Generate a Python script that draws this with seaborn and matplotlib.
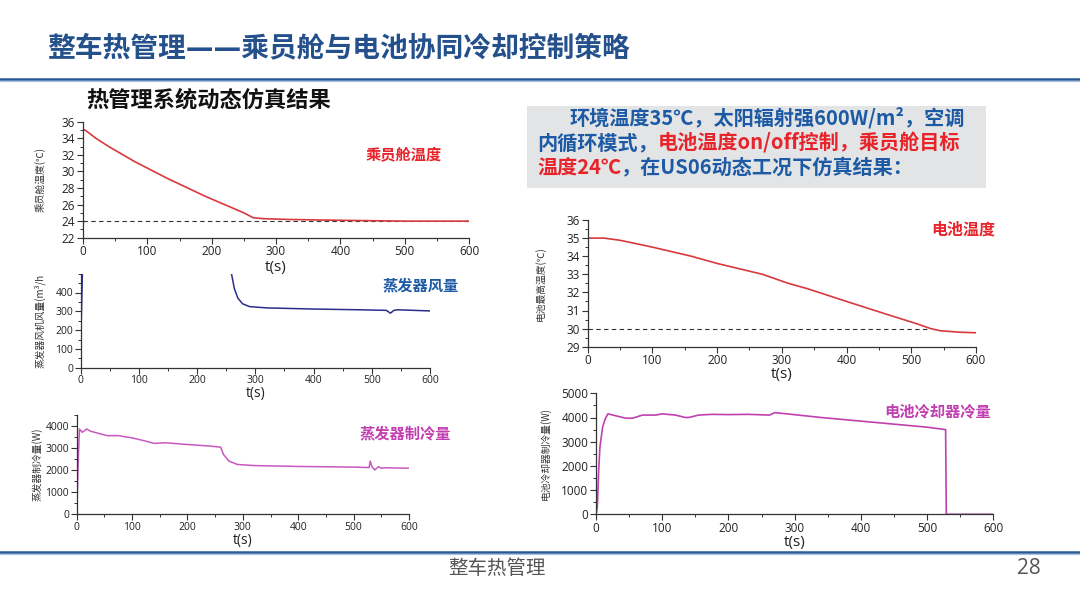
import matplotlib
matplotlib.use("Agg")
import matplotlib.pyplot as plt
from matplotlib.ticker import MultipleLocator
import seaborn as sns
import pandas as pd

# ---------------- data ----------------
cabin_t = [0, 3, 10, 20, 40, 60, 80, 100, 130, 160, 190, 220, 250, 265, 280, 320, 400, 500, 600]
cabin_temp = [35.0, 35.0, 34.6, 34.0, 33.0, 32.1, 31.2, 30.4, 29.2, 28.1, 27.0, 26.0, 25.0, 24.4, 24.3, 24.2, 24.1, 24.0, 24.0]
cabin_target = 24

evap_air_t = [0, 1, 4, 255, 259, 264, 270, 278, 290, 320, 400, 480, 525, 532, 538, 545, 600]
evap_air = [0, 250, 650, 650, 500, 420, 370, 340, 325, 318, 312, 308, 305, 290, 305, 308, 302]

evap_q_t = [0, 3, 5, 10, 18, 25, 40, 55, 75, 100, 125, 140, 160, 200, 240, 260, 265, 275, 290, 320, 400, 500, 528, 530, 533, 538, 545, 550, 555, 600]
evap_q = [0, 2600, 3850, 3700, 3850, 3750, 3650, 3550, 3550, 3450, 3300, 3200, 3230, 3150, 3080, 3030, 2700, 2400, 2250, 2200, 2160, 2130, 2110, 2400, 2150, 2000, 2150, 2080, 2100, 2080]

bat_t = [0, 25, 50, 100, 160, 200, 270, 310, 340, 400, 470, 510, 530, 545, 575, 600]
bat_temp = [35.0, 35.0, 34.88, 34.5, 34.0, 33.6, 33.0, 32.5, 32.2, 31.5, 30.7, 30.25, 30.0, 29.88, 29.8, 29.77]
bat_target = 30

chill_t = [0, 2, 4, 6, 10, 14, 18, 30, 45, 55, 70, 90, 100, 120, 135, 140, 155, 175, 200, 230, 262, 270, 285, 340, 420, 500, 528, 529, 600]
chill_q = [0, 300, 1800, 2800, 3600, 3950, 4150, 4070, 3970, 3970, 4100, 4100, 4150, 4100, 4000, 4000, 4100, 4130, 4120, 4130, 4100, 4200, 4160, 4000, 3800, 3600, 3500, 0, 0]

W, H = 1080, 607
BLUE = "#1d5aa5"
DARK_BLUE = "#24508c"
RED = "#e8232a"
MAGENTA = "#c13fb0"

sns.set_theme(style="white")
plt.rcParams['font.family'] = ['Open Sans', 'Noto Sans CJK SC', 'DejaVu Sans']
plt.rcParams['axes.unicode_minus'] = False

fig = plt.figure(figsize=(W / 100, H / 100), dpi=100)
fig.patch.set_facecolor("white")

CJK = ['Noto Sans CJK SC', 'DejaVu Sans']


def fx(x):
    return x / W


def fy(y):
    return 1 - y / H


def make_ax(left, right, top, bottom):
    return fig.add_axes([fx(left), fy(bottom), (right - left) / W, (bottom - top) / H])


def style_ax(ax, ylim, ymaj, ymin, yticks, tick_fs, xlabel_pad, ylabel, ylabel_x):
    ax.set_xlim(0, 600)
    ax.set_ylim(*ylim)
    ax.xaxis.set_major_locator(MultipleLocator(100))
    ax.xaxis.set_minor_locator(MultipleLocator(50))
    ax.yaxis.set_major_locator(MultipleLocator(ymaj))
    ax.yaxis.set_minor_locator(MultipleLocator(ymin))
    if yticks is not None:
        ax.set_yticks(yticks)
    for s in ["top", "right"]:
        ax.spines[s].set_visible(False)
    for s in ["left", "bottom"]:
        ax.spines[s].set_color("#333333")
        ax.spines[s].set_linewidth(0.9)
    ax.tick_params(which="major", direction="out", length=4, width=0.8, color="#333333",
                   labelsize=tick_fs, labelcolor="#222222", pad=1.5, left=True, bottom=True)
    ax.tick_params(which="minor", direction="out", length=2, width=0.7, color="#333333",
                   left=True, bottom=True)
    ax.set_xlabel("t(s)", fontsize=tick_fs + 2.5, color="#222222", labelpad=xlabel_pad)
    ax.set_ylabel("")
    ax.set_facecolor("none")
    ax.grid(False)
    fig.text(ylabel_x, ax.get_position().y0 + ax.get_position().height / 2, ylabel,
             rotation=90, ha="center", va="center", fontsize=7, color="#333333", family=CJK)


# ---- chart 1: cabin temperature ----
ax1 = make_ax(83, 469, 121.7, 237.7)
ax1.plot([0, 600], [cabin_target] * 2, ls=(0, (4, 3)), color="#333333", lw=0.8)
sns.lineplot(x=cabin_t, y=cabin_temp, ax=ax1, color="#d7393d", lw=1.2)
style_ax(ax1, (22, 36), 2, 1, None, 8.5, 1, "乘员舱温度(℃)", fx(40))

# ---- chart 2: evaporator airflow ----
ax2 = make_ax(80.7, 430, 273.7, 367.7)
sns.lineplot(x=evap_air_t, y=evap_air, ax=ax2, color="#2b2d8a", lw=1.1)
style_ax(ax2, (0, 500), 100, 50, [0, 100, 200, 300, 400], 7.5, 0, "蒸发器风机风量(m³/h", fx(40))

# ---- chart 3: evaporator cooling capacity ----
ax3 = make_ax(76.7, 409, 414.6, 514.3)
sns.lineplot(x=evap_q_t, y=evap_q, ax=ax3, color="#c858c0", lw=1.1)
style_ax(ax3, (0, 4500), 1000, 500, [0, 1000, 2000, 3000, 4000], 7.5, 0, "蒸发器制冷量(W)", fx(37))

# ---- chart 4: battery temperature ----
ax4 = make_ax(587.7, 976, 220, 346.7)
ax4.plot([0, 525], [bat_target] * 2, ls=(0, (4, 3)), color="#333333", lw=0.8)
sns.lineplot(x=bat_t, y=bat_temp, ax=ax4, color="#d7393d", lw=1.2)
style_ax(ax4, (29, 36), 1, 0.5, None, 8.5, 0, "电池最高温度(℃)", fx(540))

# ---- chart 5: battery chiller capacity ----
ax5 = make_ax(596, 993.3, 393.3, 514.3)
sns.lineplot(x=chill_t, y=chill_q, ax=ax5, color="#c040b0", lw=1.2)
style_ax(ax5, (0, 5000), 1000, 500, None, 8.5, 0, "电池冷却器制冷量(W)", fx(545))

# ---------------- slide decorations ----------------
fig.text(fx(47), fy(48), "整车热管理——乘员舱与电池协同冷却控制策略", fontsize=20, fontweight="bold",
         color=DARK_BLUE, ha="left", va="center", family=['DejaVu Sans', 'Noto Sans CJK SC'])
fig.add_artist(plt.Line2D([0, 1], [fy(78.5), fy(78.5)], color="#2a5a96", lw=1.8))
fig.add_artist(plt.Line2D([0, 1], [fy(80.5), fy(80.5)], color="#a9c1e0", lw=0.8))

fig.text(fx(86), fy(100), "热管理系统动态仿真结果", fontsize=16, fontweight="bold",
         color="#111111", ha="left", va="center", family=CJK)

# grey info box
fig.add_artist(plt.Rectangle((fx(527), fy(187.7)), (985.7 - 527) / W, (187.7 - 106) / H,
                             transform=fig.transFigure, facecolor="#e3e4e6", edgecolor="none", zorder=0))

overlay = fig.add_axes([0, 0, 1, 1])
overlay.set_axis_off()
overlay.set_xlim(0, 1)
overlay.set_ylim(0, 1)


def rich_line(x, y, segments, fs):
    prev = None
    for txt, col in segments:
        if prev is None:
            prev = overlay.text(fx(x), fy(y), txt, fontsize=fs, fontweight="bold", color=col,
                                ha="left", va="center", family=CJK)
        else:
            prev = overlay.annotate(txt, xy=(1, 0), xycoords=prev, ha="left", va="bottom",
                                    fontsize=fs, fontweight="bold", color=col, family=CJK)


BOX_FS = 14.5
rich_line(570, 117.7, [("环境温度35℃，太阳辐射强600W/m²，空调", BLUE)], BOX_FS)
rich_line(537, 143, [("内循环模式，", BLUE), ("电池温度on/off控制，乘员舱目标", RED)], BOX_FS)
rich_line(537, 166.7, [("温度24℃", RED), ("，在US06动态工况下仿真结果：", BLUE)], BOX_FS)

# series labels
fig.text(fx(404), fy(155), "乘员舱温度", fontsize=11, fontweight="bold", color=RED,
         ha="center", va="center", family=CJK)
fig.text(fx(421), fy(285), "蒸发器风量", fontsize=11, fontweight="bold", color=BLUE,
         ha="center", va="center", family=CJK)
fig.text(fx(405), fy(433), "蒸发器制冷量", fontsize=11, fontweight="bold", color=MAGENTA,
         ha="center", va="center", family=CJK)
fig.text(fx(963), fy(230), "电池温度", fontsize=11.5, fontweight="bold", color=RED,
         ha="center", va="center", family=CJK)
fig.text(fx(938), fy(411), "电池冷却器冷量", fontsize=11, fontweight="bold", color=MAGENTA,
         ha="center", va="center", family=CJK)

# footer
fig.add_artist(plt.Line2D([0, 1], [fy(551.5), fy(551.5)], color="#2a5a96", lw=1.8))
fig.add_artist(plt.Line2D([0, 1], [fy(553.5), fy(553.5)], color="#a9c1e0", lw=0.8))
fig.text(fx(497), fy(568), "整车热管理", fontsize=14, color="#555555", ha="center", va="center", family=CJK)
fig.text(fx(1029), fy(568), "28", fontsize=15, color="#555555", ha="center", va="center")

fig.savefig("out.png", dpi=100, facecolor="white")
